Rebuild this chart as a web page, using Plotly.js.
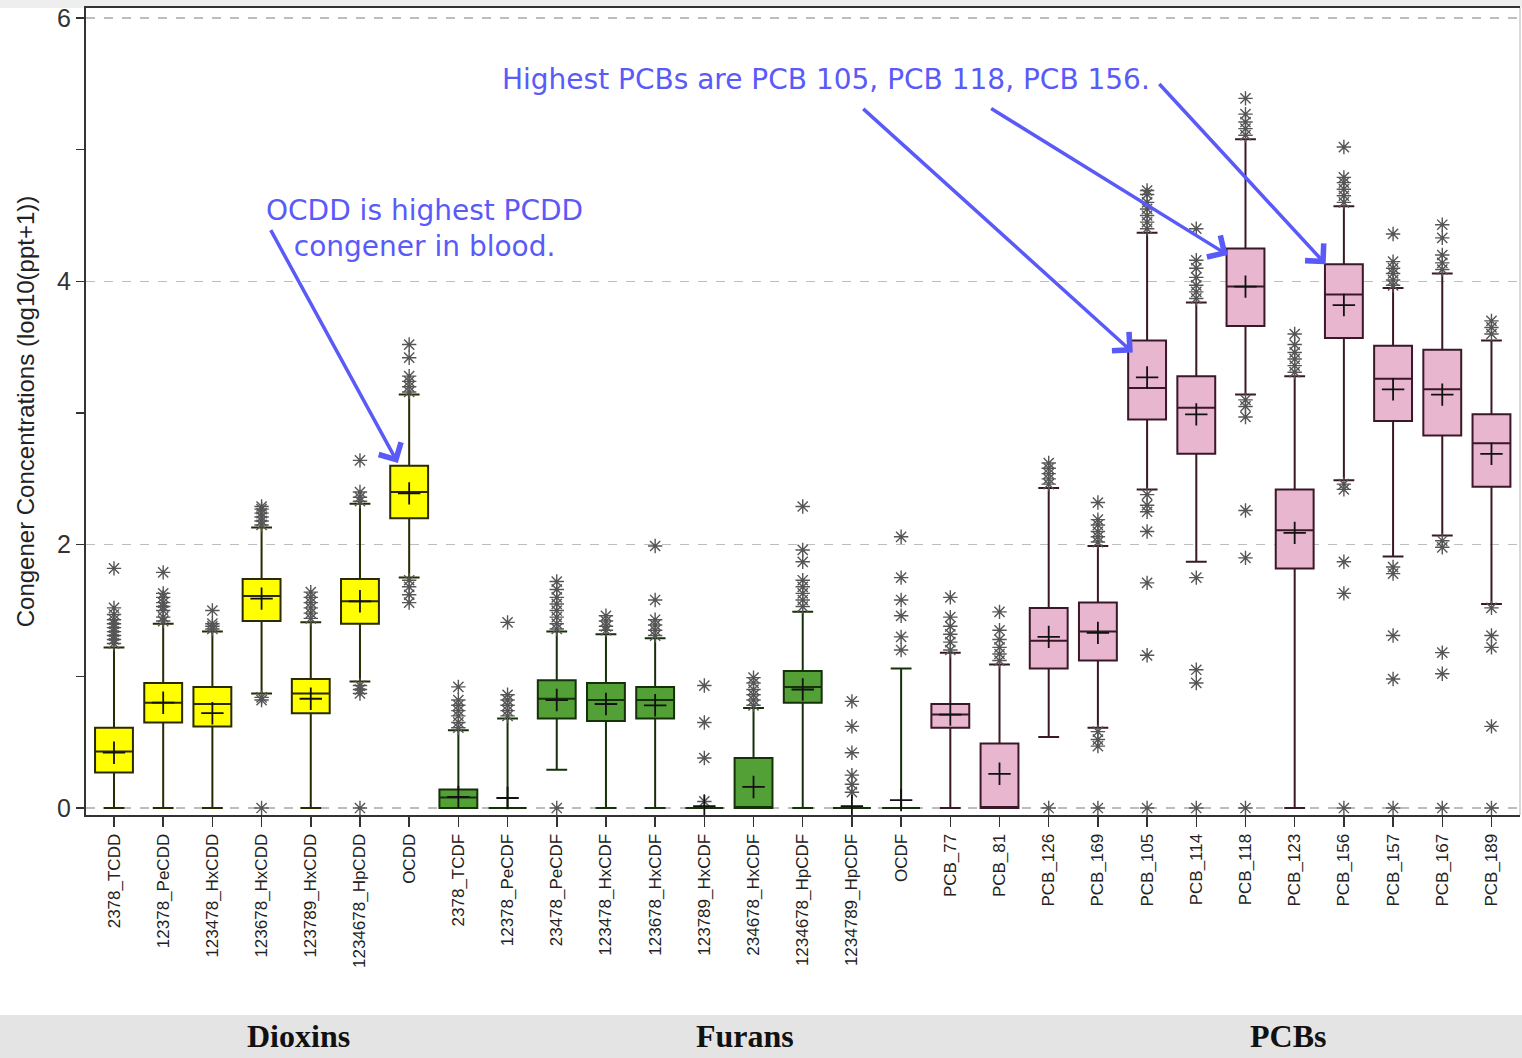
<!DOCTYPE html>
<html>
<head>
<meta charset="utf-8">
<script src="https://cdn.plot.ly/plotly-3.0.1.min.js"></script>
<style>html,body{margin:0;padding:0;background:#fff;}#chart{width:1522px;height:1058px;}</style>
</head>
<body>
<div id="chart"></div>
<script>
var categories = ["2378_TCDD","12378_PeCDD","123478_HxCDD","123678_HxCDD","123789_HxCDD","1234678_HpCDD","OCDD",
  "2378_TCDF","12378_PeCDF","23478_PeCDF","123478_HxCDF","123678_HxCDF","123789_HxCDF","234678_HxCDF","1234678_HpCDF","1234789_HpCDF","OCDF",
  "PCB_77","PCB_81","PCB_126","PCB_169","PCB_105","PCB_114","PCB_118","PCB_123","PCB_156","PCB_157","PCB_167","PCB_189"];
var groupOf = ["Dioxins","Dioxins","Dioxins","Dioxins","Dioxins","Dioxins","Dioxins",
  "Furans","Furans","Furans","Furans","Furans","Furans","Furans","Furans","Furans","Furans",
  "PCBs","PCBs","PCBs","PCBs","PCBs","PCBs","PCBs","PCBs","PCBs","PCBs","PCBs","PCBs"];
var groupNames = ["Dioxins","Furans","PCBs"];

var q1     = [0.27,0.65,0.62,1.42,0.72,1.40,2.20, 0,0,0.68,0.66,0.68,0,0,0.80,0,0, 0.61,0,1.06,1.12,2.95,2.69,3.66,1.82,3.57,2.94,2.83,2.44];
var median = [0.43,0.80,0.79,1.61,0.87,1.57,2.40, 0.08,0,0.83,0.82,0.82,0,0,0.92,0,0, 0.71,0,1.27,1.34,3.19,3.04,3.96,2.11,3.90,3.26,3.18,2.77];
var q3     = [0.61,0.95,0.92,1.74,0.98,1.74,2.60, 0.14,0,0.97,0.95,0.92,0,0.38,1.04,0,0, 0.79,0.49,1.52,1.56,3.55,3.28,4.25,2.42,4.13,3.51,3.48,2.99];
var lowerFence = [0,0,0,0.87,0,0.96,1.75, 0,0,0.29,0,0,0,0,0,0,0, 0,0,0.54,0.61,2.42,1.87,3.14,0,2.49,1.91,2.07,1.55];
var upperFence = [1.22,1.40,1.34,2.13,1.41,2.31,3.14, 0.59,0.68,1.34,1.32,1.29,0,0.76,1.49,0,1.06, 1.18,1.09,2.43,1.99,4.37,3.84,5.08,3.28,4.57,3.95,4.06,3.55];
var means  = [0.42,0.80,0.72,1.59,0.83,1.57,2.39, 0.085,0.076,0.82,0.79,0.78,0.015,0.16,0.90,0.015,0.06, 0.71,0.26,1.30,1.33,3.27,2.99,3.96,2.09,3.82,3.18,3.14,2.69];

var outliers = [
  [1.25,1.28,1.31,1.34,1.37,1.40,1.43,1.47,1.52,1.82],
  [1.42,1.45,1.50,1.53,1.56,1.60,1.63,1.79],
  [1.36,1.38,1.40,1.50],
  [2.15,2.18,2.21,2.24,2.27,2.29,0.84,0.82,0],
  [1.44,1.48,1.52,1.56,1.60,1.64],
  [2.33,2.36,2.40,2.64,0.93,0.90,0.87,0],
  [3.16,3.20,3.24,3.28,3.42,3.52,1.73,1.68,1.62,1.56],
  [0.61,0.65,0.70,0.74,0.78,0.82,0.92],
  [0.70,0.74,0.78,0.82,0.86,1.41],
  [1.36,1.40,1.45,1.50,1.55,1.60,1.66,1.72,0],
  [1.35,1.38,1.42,1.46],
  [1.31,1.35,1.39,1.43,1.58,1.99],
  [0.05,0.38,0.65,0.93],
  [0.78,0.82,0.86,0.90,0.95,0.99],
  [1.53,1.58,1.63,1.68,1.73,1.87,1.96,2.29],
  [0.12,0.18,0.25,0.42,0.62,0.81],
  [1.20,1.30,1.46,1.58,1.75,2.06],
  [1.20,1.26,1.32,1.38,1.45,1.60],
  [1.12,1.17,1.22,1.28,1.35,1.49],
  [2.46,2.50,2.54,2.58,2.62,0],
  [2.02,2.06,2.10,2.15,2.19,2.32,0.58,0.52,0.47,0],
  [4.40,4.45,4.50,4.55,4.60,4.66,4.69,2.38,2.30,2.25,2.10,1.71,1.16,0],
  [3.87,3.92,3.97,4.03,4.10,4.16,4.40,1.75,1.05,0.95,0],
  [5.11,5.16,5.21,5.27,5.39,3.10,3.05,2.97,2.26,1.90,0],
  [3.31,3.36,3.41,3.46,3.52,3.60],
  [4.60,4.65,4.70,4.75,4.79,5.02,2.46,2.42,1.87,1.63,0],
  [3.97,4.01,4.06,4.10,4.15,4.36,1.83,1.78,1.31,0.98,0],
  [4.09,4.14,4.20,4.33,4.43,2.03,1.98,1.18,1.02,0],
  [3.60,3.65,3.70,1.52,1.31,1.22,0.62,0]
];

var yTickVals = [0,2,4,6];
var yTickText = ["0","2","4","6"];

var fillColors = {"Dioxins":"#FFFF00","Furans":"#52A036","PCBs":"#E8B6CF"};
var lineColors = {"Dioxins":"#2a2a00","Furans":"#16300a","PCBs":"#3a1828"};

var traces = [];
groupNames.forEach(function(g){
  var idx = [];
  categories.forEach(function(c,i){ if(groupOf[i]===g) idx.push(i); });
  traces.push({
    type:"box", name:g, x: idx,
    q1: idx.map(function(i){return q1[i];}),
    median: idx.map(function(i){return median[i];}),
    q3: idx.map(function(i){return q3[i];}),
    lowerfence: idx.map(function(i){return lowerFence[i];}),
    upperfence: idx.map(function(i){return upperFence[i];}),
    width: 0.77, whiskerwidth: 0.55,
    fillcolor: fillColors[g],
    line: {color: lineColors[g], width: 2},
    boxpoints: false, hoverinfo: "skip", showlegend: false
  });
});

var ox = [], oy = [];
outliers.forEach(function(arr,i){ arr.forEach(function(v){ ox.push(i); oy.push(v); }); });
traces.push({
  type:"scatter", mode:"markers", x: ox, y: oy, showlegend:false, hoverinfo:"skip",
  marker:{symbol:"asterisk-open", size:12, color:"#555", line:{color:"#555", width:1.4}}
});
traces.push({
  type:"scatter", mode:"markers", x: categories.map(function(c,i){return i;}), y: means,
  showlegend:false, hoverinfo:"skip",
  marker:{symbol:"cross-thin-open", size:16, color:"#111", line:{color:"#111", width:1.8}}
});

var blue = "#5A5AF8";
var annFont = {family:"DejaVu Sans", size:28, color: blue};
function arrow(tx,ty,sx,sy){
  return {x:tx, y:ty, ax:sx, ay:sy, xref:"x", yref:"y", axref:"x", ayref:"y",
    text:"", showarrow:true, arrowhead:4, arrowsize:1.4, arrowwidth:3.5, arrowcolor:blue,
    standoff:0, startstandoff:0};
}
// plot area in px: x 86..1520, y 8..815
function px2paperX(p){ return (p-86)/1434; }
function px2paperY(p){ return (815-p)/807; }
var groupFont = {family:"Liberation Serif", size:32, color:"#111"};

var annotations = [
  {x:14.47, y:5.53, xref:"x", yref:"y", text:"Highest PCBs are PCB 105, PCB 118, PCB 156.", showarrow:false, font:annFont},
  {x:6.32, y:4.40, xref:"x", yref:"y", text:"OCDD is highest PCDD<br>congener in blood.", showarrow:false, font:annFont, align:"center"},
  arrow(5.77,2.62,3.17,4.40),
  arrow(20.71,3.46,15.2,5.32),
  arrow(22.64,4.20,17.8,5.32),
  arrow(24.63,4.13,21.22,5.51),
  {x:px2paperX(298), y:px2paperY(1036), xref:"paper", yref:"paper", xanchor:"center", yanchor:"middle",
    text:"<b>Dioxins</b>", showarrow:false, font:groupFont},
  {x:px2paperX(745), y:px2paperY(1036), xref:"paper", yref:"paper", xanchor:"center", yanchor:"middle",
    text:"<b>Furans</b>", showarrow:false, font:groupFont},
  {x:px2paperX(1288), y:px2paperY(1036), xref:"paper", yref:"paper", xanchor:"center", yanchor:"middle",
    text:"<b>PCBs</b>", showarrow:false, font:groupFont}
];

var shapes = [
  {type:"rect", xref:"paper", yref:"paper", x0:px2paperX(0), x1:px2paperX(1522), y0:px2paperY(1058), y1:px2paperY(1015),
    fillcolor:"#E4E4E4", line:{width:0}, layer:"below"},
  {type:"rect", xref:"paper", yref:"paper", x0:px2paperX(0), x1:px2paperX(1522), y0:px2paperY(8), y1:px2paperY(0),
    fillcolor:"#EEEEEE", line:{width:0}, layer:"below"},
  {type:"line", xref:"paper", yref:"paper", x0:1, x1:1, y0:0, y1:1, line:{color:"#cccccc", width:1.5}}
];

var layout = {
  width:1522, height:1058,
  margin:{l:86, r:2, t:8, b:243},
  paper_bgcolor:"#ffffff", plot_bgcolor:"#ffffff",
  showlegend:false,
  xaxis:{
    range:[-0.569, 28.58], tickmode:"array", tickvals: categories.map(function(c,i){return i;}), ticktext: categories,
    tickangle:-90, tickfont:{family:"Liberation Sans", size:17, color:"#222"},
    ticks:"outside", ticklen:10, tickwidth:1.5, tickcolor:"#333",
    showline:true, linecolor:"#333", linewidth:2, mirror:true, showgrid:false, zeroline:false
  },
  yaxis:{
    range:[-0.053, 6.076], tickmode:"array", tickvals:yTickVals, ticktext:yTickText,
    tickfont:{family:"Liberation Sans", size:25, color:"#333"},
    ticks:"outside", ticklen:8, tickwidth:1.5, tickcolor:"#333",
    minor:{dtick:1, ticks:"outside", ticklen:8, tickwidth:1.5, tickcolor:"#333", showgrid:false},
    showline:true, linecolor:"#333", linewidth:2, zeroline:false,
    showgrid:true, gridcolor:"#bdbdbd", gridwidth:1.5, griddash:"dash",
    title:{text:"Congener Concentrations (log10(ppt+1))", font:{family:"Liberation Sans", size:24, color:"#222"}, standoff:16}
  },
  annotations: annotations,
  shapes: shapes
};

Plotly.newPlot("chart", traces, layout, {displayModeBar:false, staticPlot:true});
</script>
</body>
</html>
